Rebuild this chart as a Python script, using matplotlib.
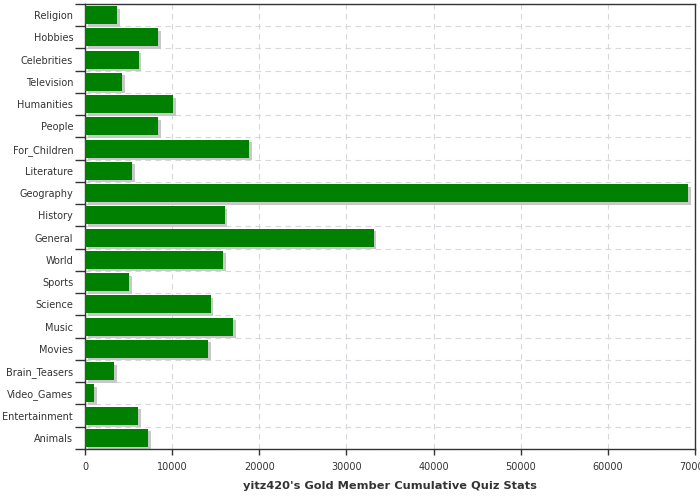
import numpy as np
import matplotlib.pyplot as plt
import matplotlib.transforms as mtransforms

# Categories from top to bottom
categories = ["Religion", "Hobbies", "Celebrities", "Television", "Humanities", "People",
              "For_Children", "Literature", "Geography", "History", "General", "World",
              "Sports", "Science", "Music", "Movies", "Brain_Teasers", "Video_Games",
              "Entertainment", "Animals"]
values = [3700, 8400, 6150, 4250, 10100, 8400, 18850, 5400, 69200, 16050, 33150, 15850,
          5100, 14450, 17000, 14150, 3350, 1050, 6100, 7250]
x_ticks = [0, 10000, 20000, 30000, 40000, 50000, 60000, 70000]

fig = plt.figure(figsize=(7, 5), dpi=100)
ax = fig.add_axes([85 / 700, 51 / 500, 610 / 700, 445 / 500])

y = np.arange(len(categories))
# drop shadow behind each bar
shadow = mtransforms.offset_copy(ax.transData, fig=fig, x=2.5, y=-2.5, units="dots")
ax.barh(y, values, height=0.8, color="#c8c8c8", transform=shadow, zorder=2)
ax.barh(y, values, height=0.8, color="#008000", zorder=3)

ax.set_xlim(0, 70000)
ax.set_ylim(len(categories) - 0.5, -0.5)
ax.set_xticks(x_ticks)
ax.set_xticklabels([str(t) for t in x_ticks], fontsize=7, color="#333333")
ax.set_yticks(y)
ax.set_yticklabels(categories, fontsize=7, color="#333333")
ax.set_yticks(np.arange(len(categories) + 1) - 0.5, minor=True)

ax.tick_params(axis="y", which="major", length=0, pad=8.5)
ax.tick_params(axis="y", which="minor", length=7, width=1, color="#333333")
ax.tick_params(axis="x", which="major", length=4, width=1, color="#333333", pad=5)

ax.grid(axis="x", which="major", linestyle=(0, (5, 4)), color="#d8d8dc", linewidth=0.8, zorder=0)
ax.grid(axis="y", which="minor", linestyle=(0, (5, 4)), color="#d8d8dc", linewidth=0.8, zorder=0)
ax.set_axisbelow(True)

for s in ax.spines.values():
    s.set_color("#333333")
    s.set_linewidth(1)

ax.set_xlabel("yitz420's Gold Member Cumulative Quiz Stats", fontsize=8.2, fontweight="bold",
              color="#333333", labelpad=7)

fig.savefig("out.png", dpi=100)
